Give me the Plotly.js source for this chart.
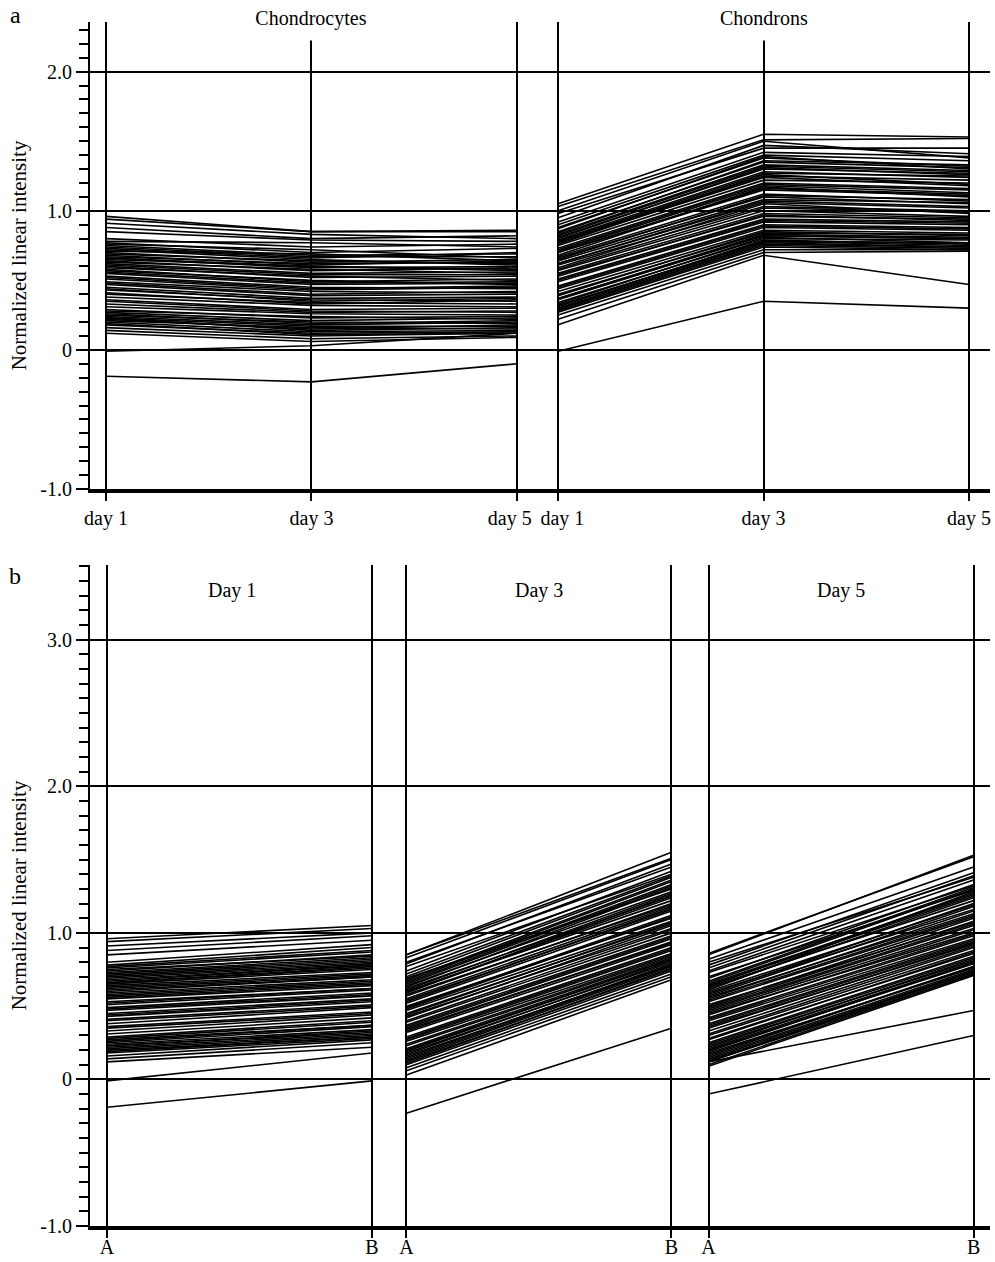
<!DOCTYPE html>
<html>
<head>
<meta charset="utf-8">
<script src="https://cdn.plot.ly/plotly-3.0.1.min.js"></script>
<style>html,body{margin:0;padding:0;background:#fff;}#chart{width:995px;height:1262px;}</style>
</head>
<body>
<div id="chart"></div>
<script>
// ---- data (normalized linear intensity per gene) ----
const panelATimepoints = ['day 1', 'day 3', 'day 5'];
const panelBGroups = ['Day 1', 'Day 3', 'Day 5'];
const panelBSamples = ['A', 'B'];
const panelAGroups = ['Chondrocytes', 'Chondrons'];

const chondrocyteDay1 = [0.96,0.94,0.91,0.88,0.85,0.78,0.77,0.76,0.75,0.73,0.71,0.70,0.69,0.67,0.66,0.65,0.64,0.63,0.62,0.60,0.59,0.58,0.57,0.55,0.53,0.51,0.49,0.47,0.45,0.43,0.41,0.38,0.36,0.33,0.31,0.28,0.27,0.25,0.24,0.23,0.22,0.21,0.20,0.18,0.16,0.14,0.12,-0.01,-0.19,
  0.80,0.74,0.72,0.68,0.66,0.61,0.56,0.52,0.48,0.44,0.40,0.35,0.29,0.26,0.23,0.19];
const chondrocyteDay3 = [0.85,0.85,0.83,0.80,0.79,0.77,0.70,0.72,0.68,0.66,0.69,0.63,0.64,0.62,0.59,0.60,0.57,0.58,0.55,0.52,0.53,0.49,0.50,0.47,0.45,0.43,0.42,0.39,0.37,0.36,0.33,0.32,0.29,0.27,0.26,0.24,0.21,0.20,0.18,0.17,0.15,0.16,0.13,0.12,0.10,0.08,0.06,0.03,-0.23,
  0.74,0.67,0.65,0.61,0.60,0.54,0.48,0.44,0.40,0.35,0.34,0.28,0.23,0.19,0.14,0.11];
const chondrocyteDay5 = [0.85,0.86,0.80,0.82,0.78,0.74,0.73,0.66,0.69,0.70,0.64,0.65,0.62,0.63,0.60,0.58,0.59,0.55,0.56,0.53,0.50,0.51,0.47,0.48,0.44,0.45,0.41,0.40,0.38,0.35,0.36,0.31,0.30,0.28,0.25,0.22,0.23,0.19,0.20,0.17,0.18,0.15,0.14,0.13,0.12,0.10,0.09,0.12,-0.10,
  0.76,0.67,0.61,0.64,0.57,0.54,0.49,0.46,0.42,0.37,0.33,0.27,0.24,0.21,0.16,0.12];
const chondronDay1 = [1.05,1.03,1.00,0.98,0.95,0.90,0.88,0.87,0.84,0.83,0.81,0.80,0.79,0.78,0.76,0.75,0.73,0.72,0.71,0.70,0.68,0.67,0.66,0.64,0.62,0.61,0.59,0.57,0.55,0.53,0.51,0.49,0.46,0.44,0.42,0.39,0.37,0.36,0.34,0.33,0.31,0.30,0.29,0.28,0.27,0.25,0.22,0.18,-0.01,
  0.92,0.85,0.82,0.78,0.77,0.70,0.65,0.62,0.58,0.54,0.50,0.45,0.40,0.37,0.32,0.29];
const chondronDay3 = [1.55,1.51,1.50,1.45,1.47,1.40,1.38,1.39,1.36,1.33,1.30,1.31,1.28,1.25,1.26,1.22,1.20,1.19,1.18,1.15,1.17,1.12,1.10,1.08,1.06,1.03,1.05,1.00,0.98,0.97,0.94,0.92,0.90,0.88,0.86,0.85,0.83,0.82,0.80,0.81,0.79,0.78,0.77,0.75,0.74,0.72,0.70,0.68,0.35,
  1.42,1.35,1.32,1.27,1.24,1.16,1.11,1.07,1.02,0.96,0.93,0.89,0.84,0.82,0.78,0.76];
const chondronDay5 = [1.53,1.52,1.38,1.45,1.41,1.36,1.32,1.30,1.33,1.29,1.27,1.26,1.24,1.22,1.19,1.20,1.16,1.15,1.13,1.11,1.10,1.07,1.05,1.06,1.02,1.00,0.98,0.96,0.95,0.93,0.92,0.90,0.88,0.86,0.84,0.82,0.81,0.80,0.79,0.77,0.76,0.75,0.74,0.73,0.72,0.72,0.71,0.47,0.30,
  1.39,1.31,1.28,1.25,1.18,1.12,1.08,1.03,0.99,0.94,0.91,0.87,0.83,0.80,0.77,0.74];

const yTickValsA = [-1, 0, 1, 2];
const yTickTextA = ['-1.0', '0', '1.0', '2.0'];
const yTickValsB = [-1, 0, 1, 2, 3];
const yTickTextB = ['-1.0', '0', '1.0', '2.0', '3.0'];

// ---- layout constants (axis positions) ----
const posAChondrocytes = [0, 1, 2];
const posAChondrons = [2.2, 3.2, 4.2];
const posB = [[0, 1], [1.13, 2.13], [2.27, 3.27]];
const labelNudgeA = 0.035; // shift of the two crowded labels in the gap

const FONT = 'Liberation Serif, Times New Roman, serif';

function buildSegments(xs, series) {
  const x = [], y = [];
  const n = series[0].length;
  for (let i = 0; i < n; i++) {
    for (let j = 0; j < xs.length; j++) { x.push(xs[j]); y.push(series[j][i]); }
    x.push(null); y.push(null);
  }
  return {x, y};
}

const lineStyle = {color: '#000', width: 1.6};
const traces = [];
function addTrace(seg, xa, ya) {
  traces.push({type: 'scatter', mode: 'lines', x: seg.x, y: seg.y, xaxis: xa, yaxis: ya,
    line: lineStyle, hoverinfo: 'skip', showlegend: false, connectgaps: false});
}
addTrace(buildSegments(posAChondrocytes, [chondrocyteDay1, chondrocyteDay3, chondrocyteDay5]), 'x', 'y');
addTrace(buildSegments(posAChondrons, [chondronDay1, chondronDay3, chondronDay5]), 'x', 'y');
addTrace(buildSegments(posB[0], [chondrocyteDay1, chondronDay1]), 'x2', 'y2');
addTrace(buildSegments(posB[1], [chondrocyteDay3, chondronDay3]), 'x2', 'y2');
addTrace(buildSegments(posB[2], [chondrocyteDay5, chondronDay5]), 'x2', 'y2');
// empty trace so the label-only overlay axis exists
traces.push({type: 'scatter', mode: 'lines', x: [], y: [], xaxis: 'x3', yaxis: 'y', hoverinfo: 'skip', showlegend: false});

const H = 1262, T = 22, B = 36;
const plotH = H - T - B;
function py(pix) { return (H - B - pix) / plotH; }
function px(pix) { return (pix - 90) / 900; }

const tickTextA = [panelATimepoints[0], panelATimepoints[1], '', '', panelATimepoints[1], panelATimepoints[2]];
const tickTextB = [];
for (let g = 0; g < 3; g++) { tickTextB.push(panelBSamples[0], panelBSamples[1]); }

const tickFont = {family: FONT, size: 20, color: '#000'};
const commonX = {
  showgrid: true, gridcolor: '#000', gridwidth: 2, zeroline: false,
  showline: true, linecolor: '#000', linewidth: 4, ticks: 'outside', ticklen: 8, tickwidth: 2,
  tickcolor: '#000', tickangle: 0, tickmode: 'array', tickfont: tickFont, fixedrange: true
};
const commonY = {
  showgrid: true, gridcolor: '#000', gridwidth: 2, zeroline: false,
  showline: true, linecolor: '#000', linewidth: 2, ticks: 'outside', ticklen: 12, tickwidth: 2,
  tickcolor: '#000', tickmode: 'array', tickfont: tickFont,
  minor: {tickmode: 'linear', tick0: 0, dtick: 0.1, ticks: 'outside', ticklen: 9, tickwidth: 2, tickcolor: '#000', showgrid: false},
  title: {text: 'Normalized linear intensity', font: {family: FONT, size: 21, color: '#000'}, standoff: 8},
  fixedrange: true
};
const rangeA = [-0.0779, 4.302];

const layout = {
  width: 995, height: 1262,
  margin: {l: 90, r: 5, t: T, b: B},
  paper_bgcolor: '#fff', plot_bgcolor: '#fff',
  font: {family: FONT, size: 20, color: '#000'},
  showlegend: false,
  xaxis: Object.assign({}, commonX, {anchor: 'y', domain: [0, 1], range: rangeA,
    tickvals: posAChondrocytes.concat(posAChondrons), ticktext: tickTextA}),
  xaxis3: {overlaying: 'x', anchor: 'y', side: 'bottom', range: rangeA, tickmode: 'array',
    tickvals: [posAChondrocytes[2] - labelNudgeA, posAChondrons[0] + labelNudgeA * 0.6],
    ticktext: [panelATimepoints[2], panelATimepoints[0]],
    ticks: 'outside', ticklen: 8, tickwidth: 2, tickcolor: 'rgba(0,0,0,0)', tickangle: 0,
    showgrid: false, showline: true, linewidth: 4, linecolor: 'rgba(0,0,0,0)', zeroline: false,
    tickfont: tickFont, fixedrange: true},
  yaxis: Object.assign({}, commonY, {anchor: 'x', domain: [py(489), 1], range: [-1, 2.357],
    tickvals: yTickValsA, ticktext: yTickTextA}),
  xaxis2: Object.assign({}, commonX, {anchor: 'y2', domain: [0, 1], range: [-0.064, 3.332],
    tickvals: posB[0].concat(posB[1], posB[2]), ticktext: tickTextB, ticklabelstandoff: -8}),
  yaxis2: Object.assign({}, commonY, {anchor: 'x2', domain: [0, py(565)], range: [-1, 3.51],
    tickvals: yTickValsB, ticktext: yTickTextB}),
  annotations: [
    {text: 'a', xref: 'paper', yref: 'paper', x: px(15), y: py(15), xanchor: 'center', yanchor: 'middle',
     showarrow: false, font: {family: FONT, size: 24, color: '#000'}},
    {text: 'b', xref: 'paper', yref: 'paper', x: px(15), y: py(576), xanchor: 'center', yanchor: 'middle',
     showarrow: false, font: {family: FONT, size: 24, color: '#000'}},
    {text: panelAGroups[0], xref: 'x', yref: 'paper', x: posAChondrocytes[1], y: py(18),
     xanchor: 'center', yanchor: 'middle',
     showarrow: false, bgcolor: '#fff', height: 44, width: 150, borderpad: 0,
     font: {family: FONT, size: 20, color: '#000'}},
    {text: panelAGroups[1], xref: 'x', yref: 'paper', x: posAChondrons[1], y: py(18),
     xanchor: 'center', yanchor: 'middle',
     showarrow: false, bgcolor: '#fff', height: 44, width: 120, borderpad: 0,
     font: {family: FONT, size: 20, color: '#000'}},
    {text: panelBGroups[0], xref: 'x2', yref: 'paper', x: 0.47, y: py(590), xanchor: 'center', yanchor: 'middle',
     showarrow: false, font: {family: FONT, size: 20, color: '#000'}},
    {text: panelBGroups[1], xref: 'x2', yref: 'paper', x: 1.63, y: py(590), xanchor: 'center', yanchor: 'middle',
     showarrow: false, font: {family: FONT, size: 20, color: '#000'}},
    {text: panelBGroups[2], xref: 'x2', yref: 'paper', x: 2.77, y: py(590), xanchor: 'center', yanchor: 'middle',
     showarrow: false, font: {family: FONT, size: 20, color: '#000'}}
  ]
};

Plotly.newPlot('chart', traces, layout, {staticPlot: true, displayModeBar: false});
</script>
</body>
</html>
